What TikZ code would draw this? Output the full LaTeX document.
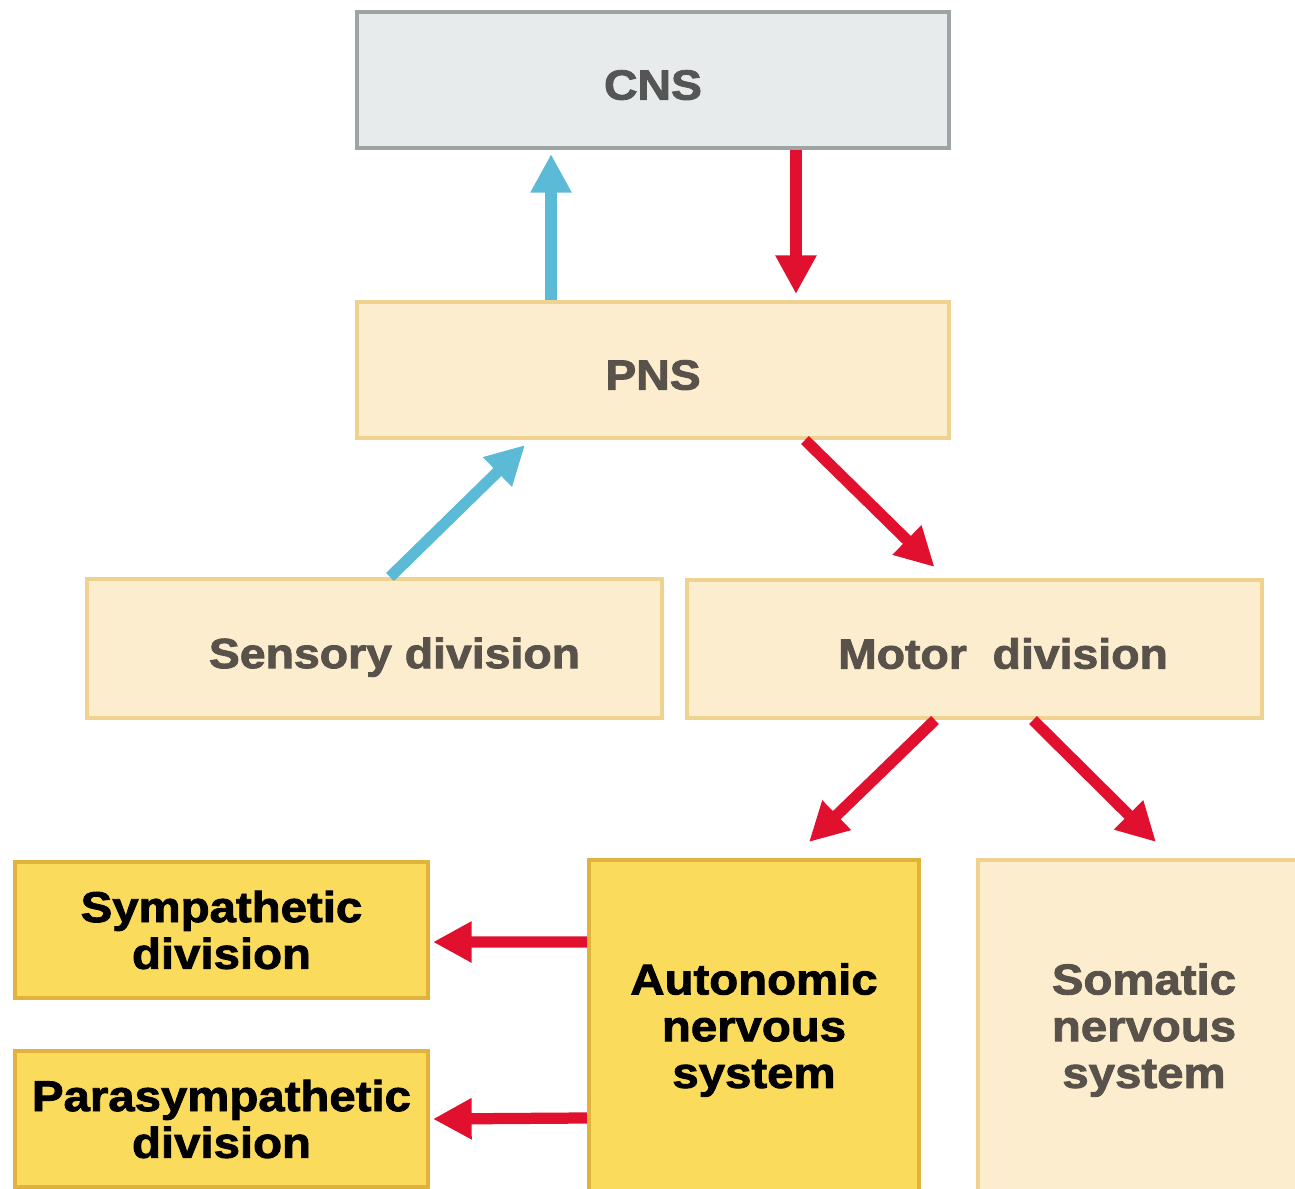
\documentclass[tikz,border=0pt]{standalone}
\usepackage{fontspec}
\setmainfont{Liberation Sans}[BoldFeatures={FakeStretch=1.1,FakeBold=2}]
\usetikzlibrary{arrows.meta}
\definecolor{cnsfill}{HTML}{E8EBEB}
\definecolor{cnsline}{HTML}{9EA3A3}
\definecolor{creamfill}{HTML}{FBEDCE}
\definecolor{creamline}{HTML}{EFD290}
\definecolor{yelfill}{HTML}{FBDB5C}
\definecolor{yelline}{HTML}{E2B33C}
\definecolor{txtgray}{HTML}{555555}
\definecolor{txtbrown}{HTML}{59524A}
\definecolor{arrblue}{HTML}{5BBAD5}
\definecolor{arrred}{HTML}{E0102E}
\tikzset{
  box/.style={rectangle, line width=2.3pt, align=center, inner sep=0pt,
    font=\bfseries\fontsize{24}{26.6}\selectfont},
  oneline/.style={text height=22.3pt, text depth=0pt},
  cnsbox/.style={box, oneline, fill=cnsfill, draw=cnsline, text=txtgray},
  creambox/.style={box, oneline, fill=creamfill, draw=creamline, text=txtbrown},
  yelbox/.style={box, fill=yelfill, draw=yelline, text=black,
    font=\bfseries\fontsize{24.5}{26.6}\selectfont},
  somabox/.style={box, fill=creamfill, draw=creamline, text=txtbrown,
    font=\bfseries\fontsize{24.5}{26.6}\selectfont},
  bluearrow/.style={draw=arrblue, line width=6.4pt, -{Triangle[width=22pt,length=22pt]}},
  redarrow/.style={draw=arrred, line width=6.4pt, -{Triangle[width=22pt,length=22pt]}}
}
\begin{document}
\begin{tikzpicture}[x=0.02cm, y=-0.02cm]
\clip (0,0) rectangle (1295,1188);
\fill[white] (0,0) rectangle (1295,1188);
% nodes
\node[cnsbox, minimum width=11.84cm, minimum height=2.72cm] (cns) at (653,80) {CNS};
\node[creambox, minimum width=11.84cm, minimum height=2.72cm] (pns) at (653,370) {PNS};
\node[creambox, minimum width=11.5cm, minimum height=2.78cm] (sens) at (374.5,648.5) {\hspace*{0.8cm}Sensory division};
\node[creambox, minimum width=11.5cm, minimum height=2.76cm] (motor) at (974.5,649) {\hspace*{1.14cm}Motor\ \ division};
\node[yelbox, minimum width=8.26cm, minimum height=2.72cm] (symp) at (221.5,930) {Sympathetic\\division};
\node[yelbox, minimum width=8.26cm, minimum height=2.72cm] (para) at (221.5,1119) {Parasympathetic\\division};
\node[yelbox, minimum width=6.6cm, minimum height=6.8cm] (auto) at (754,1030) {Autonomic\\nervous\\system};
\node[somabox, minimum width=6.64cm, minimum height=6.8cm] (soma) at (1144,1030) {Somatic\\nervous\\system};
% connectors
\draw[bluearrow] ([xshift=-2.04cm]pns.north) -- ([xshift=-2.04cm,yshift=-0.08cm]cns.south);
\draw[redarrow] ([xshift=2.86cm]cns.south) -- ([xshift=2.86cm,yshift=0.12cm]pns.north);
\draw[bluearrow] ([xshift=0.31cm]sens.north) -- ([xshift=-2.56cm,yshift=-0.1cm]pns.south);
\draw[redarrow] ([xshift=3.04cm]pns.south) -- ([xshift=-0.8cm,yshift=0.22cm]motor.north);
\draw[redarrow] ([xshift=-0.79cm]motor.south) -- ([xshift=1.1cm,yshift=0.32cm]auto.north);
\draw[redarrow] ([xshift=1.17cm]motor.south) -- ([xshift=0.24cm,yshift=0.32cm]soma.north);
\draw[redarrow] ([yshift=1.76cm]auto.west) -- ([xshift=0.06cm,yshift=-0.24cm]symp.east);
\draw[redarrow] ([yshift=-1.76cm]auto.west) -- ([xshift=0.06cm]para.east);
\end{tikzpicture}
\end{document}
